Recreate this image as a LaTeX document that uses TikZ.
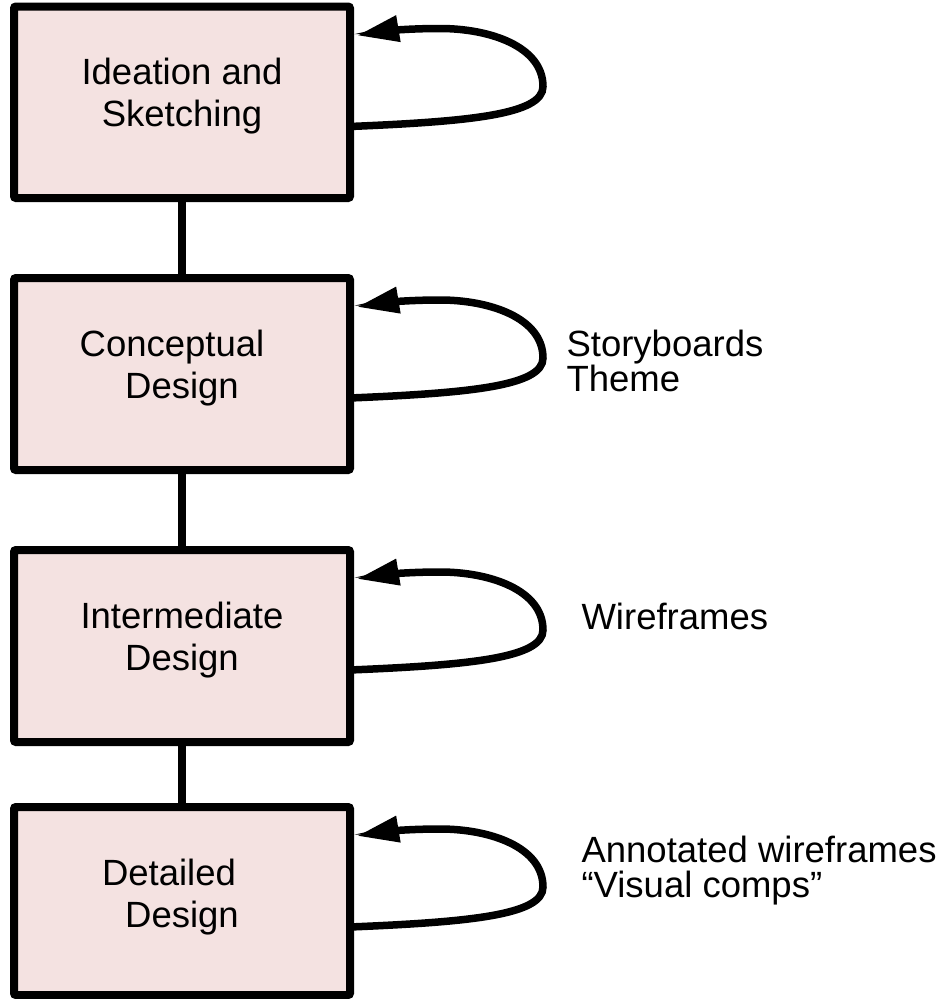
\documentclass[tikz,border=0pt]{standalone}
\usepackage{fontspec}
\setmainfont{Liberation Sans}
\usetikzlibrary{arrows.meta,calc}
\definecolor{boxfill}{HTML}{F4E2E1}
\tikzset{
  stagebox/.style={draw=black, line width=8pt, fill=boxfill, rectangle, rounded corners=2pt,
    minimum width=336pt, outer sep=0pt, inner sep=0pt},
  boxtext/.style={align=center, font=\fontsize{36.5pt}{42pt}\selectfont, anchor=base},
  sidetext/.style={align=left, font=\fontsize{36.5pt}{35pt}\selectfont, anchor=base west},
  link/.style={line width=8pt},
  loopline/.style={line width=7.5pt, -{Triangle[length=42pt,width=25pt]}}
}
\newcommand{\iterloop}[1]{%
  \draw[loopline] ($(#1.north east)+(0,120)$)
    .. controls ($(#1.north east)+(120,115)$) and ($(#1.north east)+(193,108)$) .. ($(#1.north east)+(193,80)$)
    .. controls ($(#1.north east)+(193,40)$) and ($(#1.north east)+(140,22)$) .. ($(#1.north east)+(90,22)$)
    .. controls ($(#1.north east)+(50,22)$) and ($(#1.north east)+(25,26)$) .. ($(#1.north east)+(7,29)$);}
\begin{document}
\begin{tikzpicture}[x=1pt,y=-1pt]
\useasboundingbox (0,0) rectangle (947,999);
\node[stagebox, minimum height=191.5pt] (b1) at (182,102.25) {};
\node[stagebox, minimum height=192pt] (b2) at (182,374) {};
\node[stagebox, minimum height=192pt] (b3) at (182,646) {};
\node[stagebox, minimum height=188pt] (b4) at (182,901) {};
\draw[link] (b1.south) -- (b2.north);
\draw[link] (b2.south) -- (b3.north);
\draw[link] (b3.south) -- (b4.north);
\node[boxtext] (t1) at (182,126) {Ideation and\\Sketching};
\node[boxtext] (t2) at (182,398) {Conceptual\hspace*{20pt}\\Design};
\node[boxtext] (t3) at (182,670) {Intermediate\\Design};
\node[boxtext] (t4) at (182,927) {Detailed\hspace*{26pt}\\Design};
\iterloop{b1}
\iterloop{b2}
\iterloop{b3}
\iterloop{b4}
\node[sidetext] (s2) at (563,391) {Storyboards\\Theme};
\node[sidetext] (s3) at (578,629) {Wireframes};
\node[sidetext] (s4) at (578,897) {Annotated wireframes\\“Visual comps”};
\end{tikzpicture}
\end{document}
